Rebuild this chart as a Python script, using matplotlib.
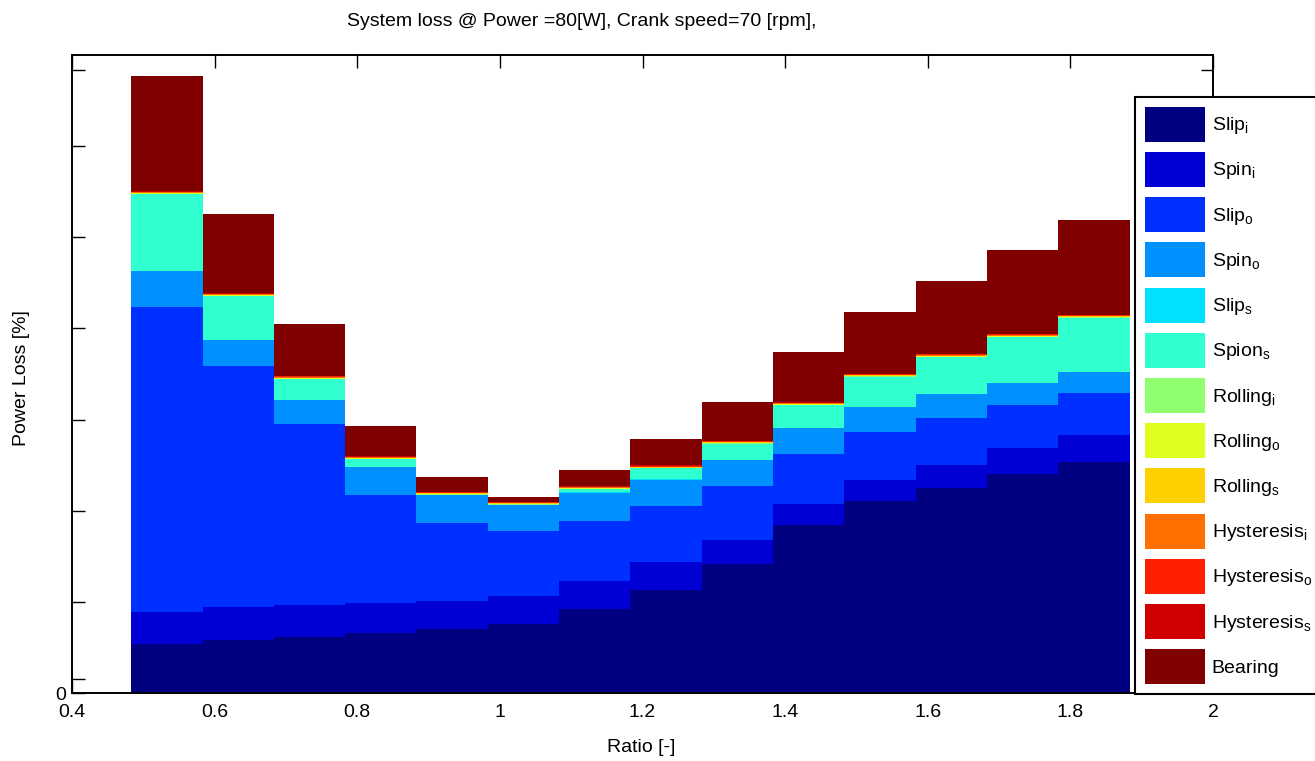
import matplotlib
matplotlib.use("Agg")
import matplotlib.pyplot as plt
import numpy as np

plt.rcParams['font.family'] = ['Liberation Sans', 'DejaVu Sans']
plt.rcParams['mathtext.fontset'] = 'custom'
plt.rcParams['mathtext.rm'] = 'Liberation Sans'
plt.rcParams['font.size'] = 14

# bar centres
ratio = [0.533, 0.633, 0.733, 0.833, 0.933, 1.033, 1.133,
         1.233, 1.333, 1.433, 1.533, 1.633, 1.733, 1.833]

# stacked loss components [%]
slip_i = [0.534, 0.581, 0.611, 0.655, 0.698, 0.757, 0.918,
          1.129, 1.414, 1.839, 2.105, 2.251, 2.398, 2.536]
spin_i = [0.351, 0.359, 0.357, 0.336, 0.314, 0.310, 0.310,
          0.304, 0.263, 0.230, 0.230, 0.249, 0.285, 0.293]
slip_o = [3.351, 2.646, 1.981, 1.181, 0.849, 0.713, 0.658,
          0.617, 0.592, 0.552, 0.530, 0.512, 0.475, 0.468]
spin_o = [0.391, 0.285, 0.263, 0.307, 0.310, 0.282, 0.310,
          0.291, 0.285, 0.282, 0.268, 0.266, 0.238, 0.226]
slip_s = [0.004, 0.004, 0.004, 0.004, 0.004, 0.004, 0.004,
          0.004, 0.004, 0.004, 0.004, 0.004, 0.004, 0.004]
spion_s = [0.840, 0.478, 0.230, 0.080, 0.002, 0.000, 0.037,
           0.119, 0.179, 0.251, 0.332, 0.405, 0.507, 0.592]
rolling_i = [0.004, 0.004, 0.004, 0.004, 0.004, 0.004, 0.004,
             0.004, 0.004, 0.004, 0.004, 0.004, 0.004, 0.004]
rolling_o = [0.006, 0.006, 0.006, 0.006, 0.006, 0.006, 0.006,
             0.006, 0.006, 0.006, 0.006, 0.006, 0.006, 0.006]
rolling_s = [0.005, 0.005, 0.005, 0.005, 0.005, 0.005, 0.005,
             0.005, 0.005, 0.005, 0.005, 0.005, 0.005, 0.005]
hyst_i = [0.006, 0.006, 0.006, 0.006, 0.006, 0.006, 0.006,
          0.006, 0.006, 0.006, 0.006, 0.006, 0.006, 0.006]
hyst_o = [0.006, 0.006, 0.006, 0.006, 0.006, 0.006, 0.006,
          0.006, 0.006, 0.006, 0.006, 0.006, 0.006, 0.006]
hyst_s = [0.006, 0.006, 0.006, 0.006, 0.006, 0.006, 0.006,
          0.006, 0.006, 0.006, 0.006, 0.006, 0.006, 0.006]
bearing = [1.262, 0.873, 0.565, 0.330, 0.159, 0.047, 0.173,
           0.292, 0.428, 0.555, 0.673, 0.798, 0.925, 1.034]

components = [slip_i, spin_i, slip_o, spin_o, slip_s, spion_s,
              rolling_i, rolling_o, rolling_s, hyst_i, hyst_o, hyst_s, bearing]
labels = [r'Slip$_\mathregular{i}$', r'Spin$_\mathregular{i}$',
          r'Slip$_\mathregular{o}$', r'Spin$_\mathregular{o}$',
          r'Slip$_\mathregular{s}$', r'Spion$_\mathregular{s}$',
          r'Rolling$_\mathregular{i}$', r'Rolling$_\mathregular{o}$',
          r'Rolling$_\mathregular{s}$', r'Hysteresis$_\mathregular{i}$',
          r'Hysteresis$_\mathregular{o}$', r'Hysteresis$_\mathregular{s}$',
          'Bearing']
colors = ['#000080', '#0000D4', '#0030FF', '#0090FF', '#00E0FF', '#30FFD0',
          '#90FF70', '#E0FF20', '#FFD000', '#FF7000', '#FF2000', '#D00000',
          '#800000']

fig = plt.figure(figsize=(13.15, 7.61), dpi=100)
ax = fig.add_axes([72 / 1315, 1 - 693 / 761, (1213 - 72) / 1315, (693 - 55) / 761])

bottom = np.zeros(len(ratio))
handles = []
for vals, lab, col in zip(components, labels, colors):
    h = ax.bar(ratio, vals, width=0.1, bottom=bottom, color=col,
               linewidth=0, label=lab, zorder=2)
    handles.append(h)
    bottom += np.array(vals)

ax.set_xlim(0.4, 2)
ax.set_ylim(0, 7)
ax.set_axisbelow(True)
ax.set_xticks([0.4, 0.6, 0.8, 1.0, 1.2, 1.4, 1.6, 1.8, 2.0])
ax.set_xticklabels(['0.4', '0.6', '0.8', '1', '1.2', '1.4', '1.6', '1.8', '2'])
ax.set_yticks([0, 0.15, 1, 2, 3, 4, 5, 6, 6.84])
ax.set_yticklabels(['0', '', '', '', '', '', '', '', ''])
ax.tick_params(direction='in', length=9, width=1, top=True, labelsize=14, pad=8)
ax.tick_params(axis='y', pad=4)

ax2 = ax.twinx()
ax2.set_ylim(0, 7)
ax2.set_yticks([2.52, 6.84])
ax2.set_yticklabels([])
ax2.tick_params(direction='in', length=9, width=1)

for sp in list(ax.spines.values()) + list(ax2.spines.values()):
    sp.set_linewidth(1.2)

fig.text(582 / 1315, 1 - 22 / 761, 'System loss @ Power =80[W], Crank speed=70 [rpm],',
         ha='center', va='center', fontsize=14)
fig.text(641 / 1315, 1 - 748 / 761, 'Ratio [-]', ha='center', va='center', fontsize=14)
fig.text(22 / 1315, 1 - 378 / 761, 'Power Loss [%]', ha='center', va='center',
         rotation=90, fontsize=14)

leg = fig.legend(handles=handles, loc='upper left',
                 bbox_to_anchor=(1135 / 1315, 1 - 97 / 761),
                 fontsize=14, handlelength=3.1, handleheight=2.4,
                 labelspacing=0.52, handletextpad=0.35, borderpad=0.5,
                 borderaxespad=0, fancybox=False, framealpha=1)
leg.get_frame().set_edgecolor('black')
leg.get_frame().set_linewidth(1.5)

fig.savefig('out.png', dpi=100)
